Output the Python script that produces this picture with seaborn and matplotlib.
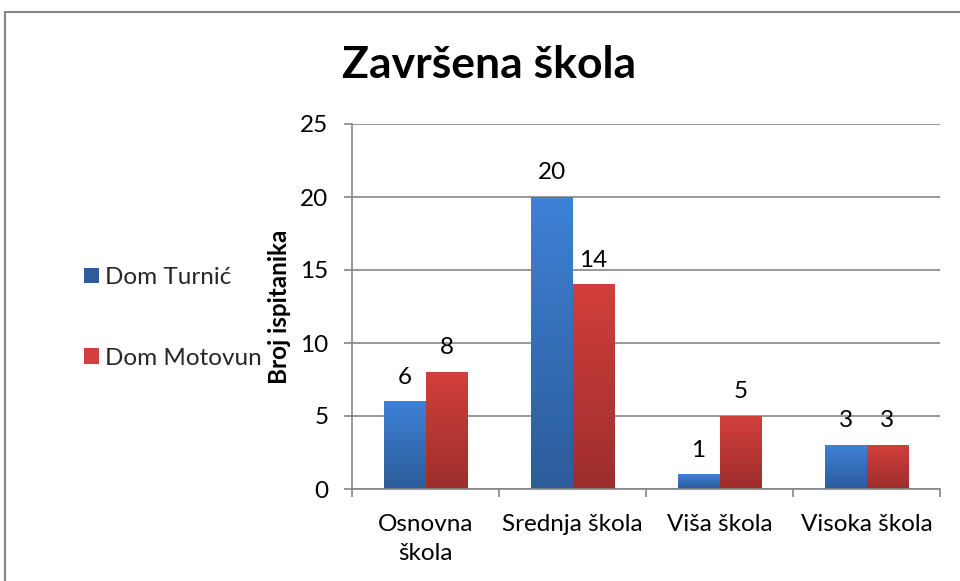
import numpy as np
import pandas as pd
import matplotlib
matplotlib.use("Agg")
import matplotlib.pyplot as plt
from matplotlib.patches import Rectangle, Patch
from matplotlib.colors import LinearSegmentedColormap
import seaborn as sns

categories = ["Osnovna\nškola", "Srednja škola", "Viša škola", "Visoka škola"]
series_names = ["Dom Turnić", "Dom Motovun"]
turnic = [6, 20, 1, 3]
motovun = [8, 14, 5, 3]
yticks = [0, 5, 10, 15, 20, 25]
title = "Završena škola"
ylabel = "Broj ispitanika"

df = pd.DataFrame({
    "kategorija": categories * 2,
    "dom": [series_names[0]] * 4 + [series_names[1]] * 4,
    "broj": turnic + motovun,
})

sns.set_theme(style="white")
plt.rcParams["font.family"] = ["Lato", "DejaVu Sans"]

base_cols = ["#3A79CC", "#CB3E3B"]
grads = [("#3E81D6", "#2C5C9A"), ("#D23F3C", "#9C2E2B")]
FS = 17.5

fig = plt.figure(figsize=(9.6, 5.81), dpi=100)
ax = fig.add_axes([352 / 960, 1 - 489 / 581, 588 / 960, 365 / 581])

sns.barplot(data=df, x="kategorija", y="broj", hue="dom", order=categories,
            hue_order=series_names, palette=base_cols, width=0.57,
            ax=ax, legend=False, saturation=1)

ax.set_ylim(0, 25)
ax.set_xlim(-0.5, 3.5)
ax.set_yticks(yticks)
ax.yaxis.grid(True, color="#868686", linewidth=1.2)
ax.set_axisbelow(True)

# gradient fills
for ci, container in enumerate(ax.containers):
    cmap = LinearSegmentedColormap.from_list("g%d" % ci, [grads[ci][1], grads[ci][0]])
    for bar in container:
        x0 = bar.get_x(); w = bar.get_width(); h = bar.get_height()
        grad = np.linspace(0, 1, 256).reshape(-1, 1)
        ax.imshow(grad, extent=(x0, x0 + w, 0, h), origin="lower", aspect="auto",
                  cmap=cmap, zorder=2.5, interpolation="bicubic")
        bar.set_facecolor("none")
        bar.set_edgecolor("none")
    ax.bar_label(container, fmt="%d", padding=10, fontsize=FS, color="#000000")

ax.set_ylim(0, 25)
ax.set_xlim(-0.5, 3.5)

for s in ["top", "right"]:
    ax.spines[s].set_visible(False)
for s in ["left", "bottom"]:
    ax.spines[s].set_color("#868686")
    ax.spines[s].set_linewidth(1.2)

ax.tick_params(axis="y", which="major", length=6, width=1.2, color="#868686",
               pad=11, labelsize=FS, labelcolor="#000000", left=True)
ax.set_xticks(range(4))
ax.set_xticklabels(categories, fontsize=FS, color="#000000", linespacing=1.45)
ax.set_xticks([-0.5, 0.5, 1.5, 2.5, 3.5], minor=True)
ax.tick_params(axis="x", which="major", length=0, pad=18)
ax.tick_params(axis="x", which="minor", length=6, width=1.2, color="#868686", bottom=True)

ax.set_xlabel("")
ax.set_ylabel(ylabel, fontsize=17.5, fontweight="bold", color="#000000")
ax.yaxis.set_label_coords(-0.103, 0.5)

fig.text(489 / 960, 1 - 65 / 581, title, ha="center", va="center",
         fontsize=32, fontweight="bold", color="#000000")

handles = [Patch(facecolor=grads[0][1], edgecolor="none"),
           Patch(facecolor=grads[1][0], edgecolor="none")]
fig.legend(handles, series_names, loc="upper left",
           bbox_to_anchor=(72 / 960, 1 - 255 / 581), frameon=False,
           fontsize=FS, handlelength=0.6, handleheight=0.6,
           handletextpad=0.25, labelspacing=2.45, borderpad=0)

fig.patches.append(Rectangle((5 / 960, -0.1), 1.2, 1.1 - 12 / 581,
                             transform=fig.transFigure, fill=False,
                             edgecolor="#868686", linewidth=1.5, clip_on=False))

fig.savefig("out.png", dpi=100)
